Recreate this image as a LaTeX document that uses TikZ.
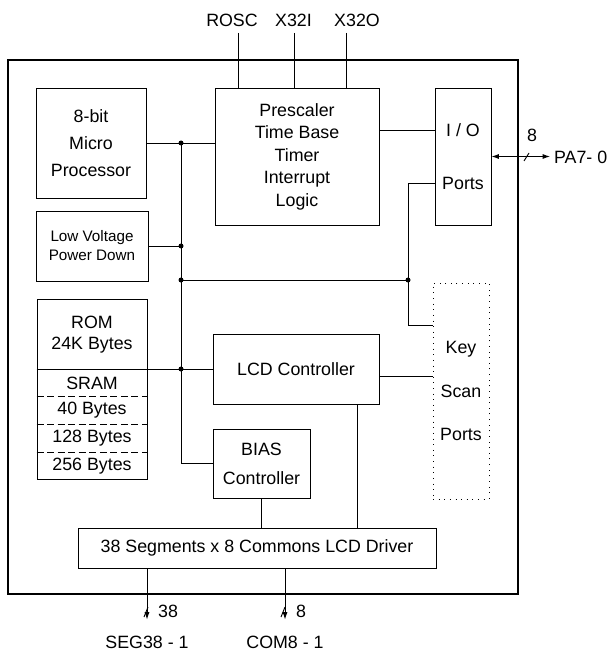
\documentclass[tikz,border=0pt]{standalone}
\usepackage{fontspec}
\setmainfont{Liberation Sans}
\usetikzlibrary{arrows.meta,positioning,calc}

\begin{document}
\begin{tikzpicture}[x=0.3mm,y=-0.3mm,
  blk/.style={draw,line width=0.8pt,inner sep=0pt,align=center},
  txt/.style={font=\fontsize{15.2}{19}\selectfont},
  wire/.style={line width=0.8pt},
  junc/.style={circle,fill,inner sep=0pt,minimum size=1.5mm},
  >={Latex[length=2.2mm,width=1.5mm]}]
  \useasboundingbox (0,0) rectangle (607,653);
  \draw[line width=1.8pt] (8,60) rectangle (518,594);

  % blocks
  \node[blk,minimum width=33mm,minimum height=33mm,
        font=\fontsize{15.2}{23}\selectfont] (mp) at (91,143)
        {8-bit\\Micro\\Processor};
  \node[blk,minimum width=33.6mm,minimum height=21mm,
        font=\fontsize{13}{16.2}\selectfont] (lv) at (92,246)
        {Low Voltage\\Power Down};
  \node[blk,minimum width=49.2mm,minimum height=41.1mm,
        font=\fontsize{15.2}{19.2}\selectfont] (pre) at (297,156.5)
        {Prescaler\\Time Base\\Timer\\Interrupt\\Logic};
  \node[blk,minimum width=16.8mm,minimum height=41.1mm] (io) at (463,156.5) {};
  \node[txt] (iotop) at (463,130) {I / O};
  \node[txt] (iobot) at (463,183) {Ports};
  \node[blk,dash pattern=on 0.8pt off 4pt,minimum width=16.8mm,minimum height=64.8mm,
        font=\fontsize{15.2}{37.4}\selectfont] (key) at (461,391)
        {Key\\Scan\\Ports};
  \node[blk,minimum width=33mm,minimum height=54mm] (rom) at (92,389) {};
  \node[txt] (rom-a) at (92,322) {ROM};
  \node[txt] (rom-b) at (92,345) {24K Bytes};
  \node[txt] (ram-a) at (92,383) {SRAM};
  \node[txt] (ram-b) at (92,410) {40 Bytes};
  \node[txt] (ram-c) at (92,438) {128 Bytes};
  \node[txt] (ram-d) at (92,466) {256 Bytes};
  \foreach \y in {396,424,452}
    \draw[wire,dash pattern=on 6pt off 3pt] (rom.west |- 0,\y) -- (rom.east |- 0,\y);
  \node[blk,txt,minimum width=49.8mm,minimum height=21mm] (lcd) at (296,369)
        {LCD Controller};
  \node[blk,minimum width=29.1mm,minimum height=20.7mm,
        font=\fontsize{15.2}{24.7}\selectfont] (bias) at (261.5,463.5)
        {BIAS\\Controller};
  \node[blk,txt,minimum width=107.4mm,minimum height=12mm] (drv) at (257,548)
        {38 Segments x 8 Commons LCD Driver};

  % pins on top
  \node[txt] (rosc) at (232,20) {ROSC};
  \node[txt] (x32i) at (293.5,20) {X32I};
  \node[txt] (x32o) at (357,20) {X32O};
  \coordinate (rosc-pin) at (238,33);
  \coordinate (x32i-pin) at (294,33);
  \coordinate (x32o-pin) at (346,33);
  \foreach \p in {rosc-pin,x32i-pin,x32o-pin}
    \draw[wire] (\p) -- (\p |- pre.north);

  % internal bus
  \coordinate (bus) at (181,143);
  \coordinate (tap) at (408,280);
  \coordinate (keyin) at ($(key.north west)+(0,43)$);
  \draw[wire] (mp.east) -- (mp.east -| pre.west);
  \draw[wire] (bus) -- (bus |- bias.west) -- (bias.west);
  \draw[wire] (lv.east) -- (lv.east -| bus);
  \draw[wire] (bus |- tap) -- (tap);
  \draw[wire] (tap) |- (iobot -| io.west);
  \draw[wire] (tap) |- (keyin);
  \draw[wire] (lcd.west -| rom.west) -- (lcd.west);
  \draw[wire] (iotop -| pre.east) -- (iotop -| io.west);
  \foreach \c in {bus,lv.east -| bus,bus |- tap,tap,bus |- lcd.west}
    \node[junc] at (\c) {};

  % lcd side
  \coordinate (lk) at ($(lcd.east)+(0,7)$);
  \draw[wire] (lk) -- (lk -| key.west);
  \coordinate (ld) at ($(lcd.south east)+(-22,0)$);
  \draw[wire] (ld) -- (ld |- drv.north);
  \draw[wire] (bias.south) -- (bias.south |- drv.north);

  % port A
  \node[txt,anchor=west] (pa) at (550,157) {PA7- 0};
  \draw[wire,<->] (io.east) -- (io.east -| pa.west);
  \draw[wire] (524,161) -- (529,153);
  \node[txt] (pa-n) at (532,135) {8};

  % outputs
  \node[txt] (seg) at (147,642) {SEG38 - 1};
  \node[txt] (com) at (285,642) {COM8 - 1};
  \draw[wire,->,shorten >=3.6mm] (drv.south -| seg) -- (seg.north);
  \draw[wire,->,shorten >=3.6mm] (drv.south -| com) -- (com.north);
  \draw[wire] (144,617) -- (148,607);
  \draw[wire] (281,617) -- (285,607);
  \node[txt] (seg-n) at (168,611) {38};
  \node[txt] (com-n) at (301,611) {8};
\end{tikzpicture}
\end{document}
